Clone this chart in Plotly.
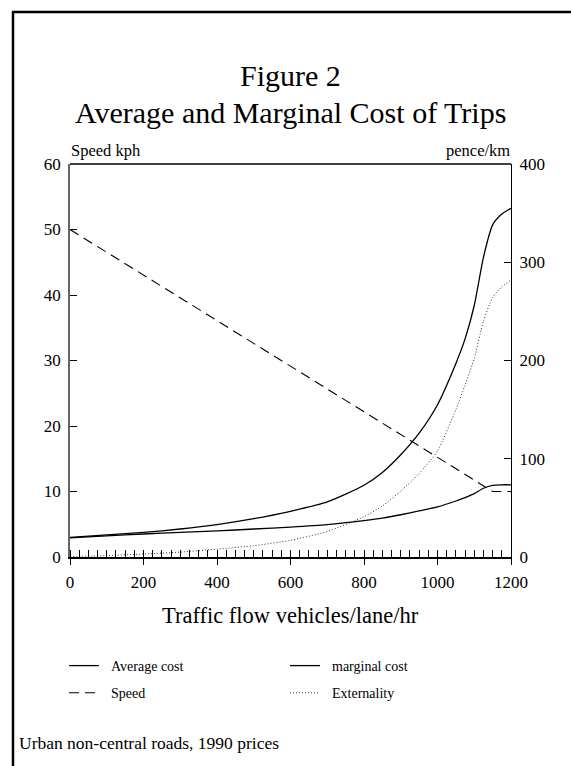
import plotly.graph_objects as go

# ---- data ----
flow = [0, 100, 200, 300, 400, 500, 600, 700, 800, 850, 900, 950, 1000,
        1050, 1075, 1100, 1125, 1150, 1175, 1200]
average_cost = [19.5, 21.5, 23.4, 25, 26.5, 28.5, 30.5, 33, 37, 39.5, 43, 47, 51,
                57, 60.5, 64.5, 70, 73, 73.5, 73.5]
marginal_cost = [20, 22.5, 25, 28.5, 33, 39, 46.5, 56, 73, 86, 104, 126, 155,
                 197, 222, 256, 305, 338, 349, 355]
externality = [0.5, 1.5, 3, 5, 8, 11.5, 17, 26, 41, 52, 67, 85, 108,
               150, 175, 202, 240, 264, 275, 282]
speed_flow = [0, 1150, 1200]
speed_kph = [50, 10, 10]

x_ticks = [0, 200, 400, 600, 800, 1000, 1200]
left_ticks = [0, 10, 20, 30, 40, 50, 60]
right_ticks = [0, 100, 200, 300, 400]

SERIF = "Liberation Serif, Times New Roman, serif"
W, H = 571, 766
L, R, T, B = 70, 511, 164, 557  # plot area in pixels
NB = "\u00a0\u00a0"


def px(x):
    return (x - L) / (R - L)


def py(y):
    return (B - y) / (B - T)


fig = go.Figure()
fig.add_trace(go.Scatter(x=flow, y=average_cost, name=NB + "Average cost", yaxis="y2",
                         mode="lines", line=dict(color="black", width=1.3, shape="spline", smoothing=0.6),
                         legend="legend", legendgroup="a"))
fig.add_trace(go.Scatter(x=speed_flow, y=speed_kph, name=NB + "Speed", yaxis="y",
                         mode="lines", line=dict(color="black", width=1.1, dash="10px,6px"),
                         legend="legend", legendgroup="b"))
fig.add_trace(go.Scatter(x=flow, y=marginal_cost, name=NB + "marginal cost", yaxis="y2",
                         mode="lines", line=dict(color="black", width=1.3, shape="spline", smoothing=0.6),
                         legend="legend2", legendgroup="c"))
fig.add_trace(go.Scatter(x=flow, y=externality, name=NB + "Externality", yaxis="y2",
                         mode="lines", line=dict(color="#333", width=1, dash="1px,2px", shape="spline", smoothing=0.6),
                         legend="legend2", legendgroup="d"))

fig.update_layout(
    width=W, height=H,
    margin=dict(l=L, r=W - R, t=T, b=H - B),
    paper_bgcolor="white", plot_bgcolor="white",
    font=dict(family=SERIF, color="black", size=17),
    xaxis=dict(range=[0, 1200], tickvals=x_ticks, ticks="outside", ticklen=6, tickwidth=1.2,
               tickcolor="black", showline=True, linecolor="black", linewidth=2, mirror=False,
               showgrid=False, zeroline=False, ticklabelstandoff=3,
               tickfont=dict(family=SERIF, size=17),
               minor=dict(dtick=25, tick0=0, ticks="inside", ticklen=7, tickwidth=1, tickcolor="black")),
    yaxis=dict(range=[0, 60], tickvals=left_ticks, ticks="inside", ticklen=7, tickwidth=1.2,
               tickcolor="black", showline=True, linecolor="#666", linewidth=1.5,
               showgrid=False, zeroline=False, ticklabelstandoff=4,
               tickfont=dict(family=SERIF, size=17)),
    yaxis2=dict(range=[0, 400], tickvals=right_ticks, ticks="inside", ticklen=7, tickwidth=1.2,
                tickcolor="black", showline=True, linecolor="black", linewidth=1.2,
                overlaying="y", side="right", showgrid=False, zeroline=False, ticklabelstandoff=4,
                tickfont=dict(family=SERIF, size=17)),
    legend=dict(x=px(64), y=py(650), xanchor="left", yanchor="top", orientation="v",
                font=dict(family=SERIF, size=14), tracegroupgap=6, bgcolor="rgba(0,0,0,0)"),
    legend2=dict(x=px(285), y=py(650), xanchor="left", yanchor="top", orientation="v",
                 font=dict(family=SERIF, size=14), tracegroupgap=6, bgcolor="rgba(0,0,0,0)"),
    showlegend=True,
)

# top border of the plot (x axis mirror line)
fig.add_shape(type="line", xref="paper", yref="paper", x0=0, x1=1, y0=1, y1=1,
              line=dict(color="black", width=1.5))
# page frame (left and top edges)
fig.add_shape(type="line", xref="paper", yref="paper", x0=px(13), x1=px(13), y0=py(11), y1=py(H + 5),
              line=dict(color="black", width=2.5))
fig.add_shape(type="line", xref="paper", yref="paper", x0=px(12), x1=px(W + 5), y0=py(12), y1=py(12),
              line=dict(color="black", width=2.5))

annots = [
    dict(text="Figure 2", x=px(290), y=py(75), size=30),
    dict(text="Average and Marginal Cost of Trips", x=px(290), y=py(113), size=30),
    dict(text="Traffic flow vehicles/lane/hr", x=px(290), y=py(615), size=22.5),
]
for a in annots:
    fig.add_annotation(text=a["text"], x=a["x"], y=a["y"], xref="paper", yref="paper",
                       xanchor="center", yanchor="middle", showarrow=False,
                       font=dict(family=SERIF, size=a["size"], color="black"))
fig.add_annotation(text="Speed kph", x=px(69), y=py(150), xref="paper", yref="paper",
                   xanchor="left", yanchor="middle", showarrow=False,
                   font=dict(family=SERIF, size=16.5, color="black"))
fig.add_annotation(text="pence/km", x=px(512), y=py(150), xref="paper", yref="paper",
                   xanchor="right", yanchor="middle", showarrow=False,
                   font=dict(family=SERIF, size=16.5, color="black"))
fig.add_annotation(text="Urban non-central roads, 1990 prices", x=px(17), y=py(743), xref="paper", yref="paper",
                   xanchor="left", yanchor="middle", showarrow=False,
                   font=dict(family=SERIF, size=17.5, color="black"))

fig.write_html("out.html")
